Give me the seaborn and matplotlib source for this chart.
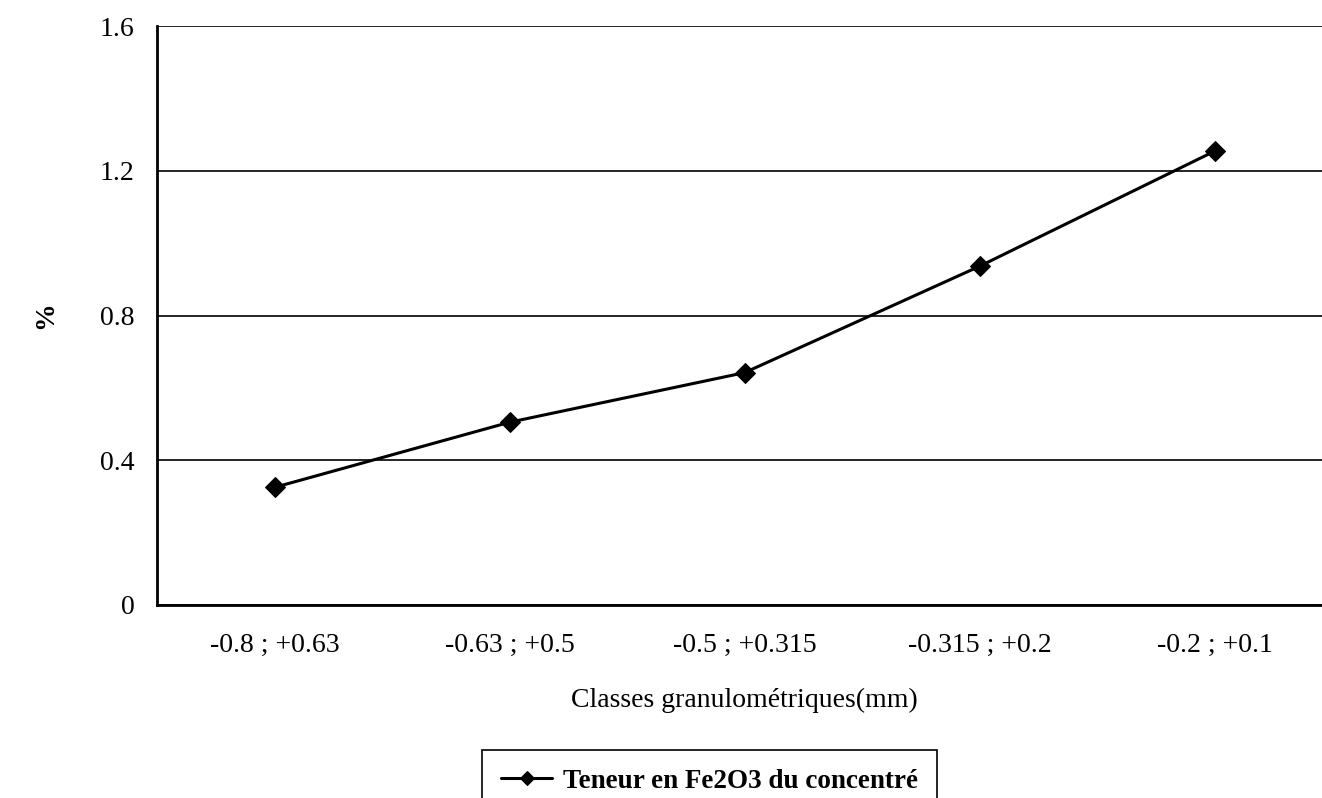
import matplotlib
matplotlib.use("Agg")
import matplotlib.pyplot as plt
import seaborn as sns
import pandas as pd
from matplotlib.ticker import FixedLocator

# data
classes = ["-0.8 ; +0.63", "-0.63 ; +0.5", "-0.5 ; +0.315", "-0.315 ; +0.2", "-0.2 ; +0.1"]
teneur = [0.325, 0.505, 0.642, 0.936, 1.254]
y_ticks = [0, 0.4, 0.8, 1.2, 1.6]

df = pd.DataFrame({"classe": classes, "teneur": teneur})

sns.set_style("white")
plt.rcParams["font.family"] = ["Liberation Serif", "DejaVu Serif"]
plt.rcParams["text.color"] = "black"
plt.rcParams["axes.labelcolor"] = "black"

fig = plt.figure(figsize=(13.22, 7.98), dpi=100)
ax = fig.add_axes([157 / 1322, 1 - 605 / 798, (1332 - 157) / 1322, (605 - 26) / 798])

sns.lineplot(data=df, x="classe", y="teneur", ax=ax, color="black", linewidth=2.2,
             marker="D", markersize=10, markeredgecolor="black",
             label="Teneur en Fe2O3 du concentré", legend=False)

ax.set_xlim(-0.5, 4.5)
ax.set_ylim(0, 1.6)
ax.set_yticks(y_ticks)
ax.set_yticklabels(["0", "0.4", "0.8", "1.2", "1.6"])
ax.yaxis.grid(True, color="black", linewidth=1.2)
ax.xaxis.grid(False)
ax.set_axisbelow(True)

for s in ["top", "right"]:
    ax.spines[s].set_visible(False)
for s in ["left", "bottom"]:
    ax.spines[s].set_color("black")
    ax.spines[s].set_linewidth(2)

# Excel style: tick marks between categories
ax.tick_params(axis="x", which="major", length=0, labelsize=20, pad=20, colors="black")
ax.xaxis.set_minor_locator(FixedLocator([0.5, 1.5, 2.5, 3.5]))
ax.tick_params(axis="x", which="minor", length=7, width=1.2, direction="out", color="black")
ax.tick_params(axis="y", length=6, width=1.2, direction="out", labelsize=20, pad=10, colors="black")

ax.set_xlabel("Classes granulométriques(mm)", fontsize=20, labelpad=22)
ax.set_ylabel("%", fontsize=20, fontweight="bold", labelpad=30)

handles, labels = ax.get_legend_handles_labels()
leg = fig.legend(handles, labels, loc="upper left",
                 bbox_to_anchor=(482 / 1322, 1 - 750 / 798), borderaxespad=0,
                 prop={"size": 19.5, "weight": "bold"}, frameon=True, fancybox=False,
                 edgecolor="black", framealpha=1, handlelength=1.9, handletextpad=0.4,
                 borderpad=0.7, markerscale=0.7)
leg.get_frame().set_linewidth(1.2)

plt.savefig("out.png", dpi=100)
